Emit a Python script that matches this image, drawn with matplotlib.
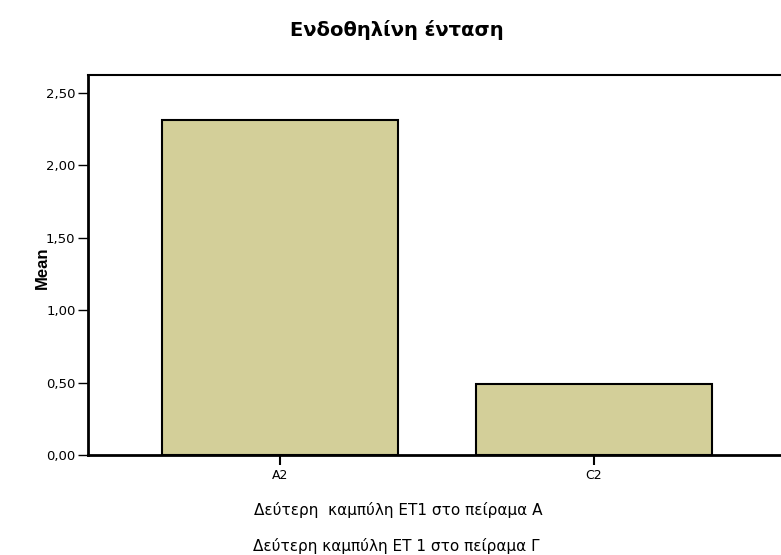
import matplotlib
matplotlib.use('Agg')
import matplotlib.pyplot as plt
from matplotlib.ticker import FuncFormatter

# Δεδομένα
categories = ['A2', 'C2']
means = [2.31, 0.49]
y_ticks = [0.0, 0.5, 1.0, 1.5, 2.0, 2.5]

title = 'Ενδοθηλίνη ένταση'
xlabel_lines = ['Δεύτερη  καμπύλη ΕΤ1 στο πείραμα Α',
                'Δεύτερη καμπύλη ΕΤ 1 στο πείραμα Γ']

plt.rcParams['font.family'] = ['DejaVu Sans']

W, H = 781, 555
fig = plt.figure(figsize=(W / 100, H / 100), dpi=100)
ax = fig.add_axes([88 / W, 1 - 455 / H, 1 - 88 / W + 0.01, (455 - 75) / H])

x = range(len(categories))
ax.bar(x, means, width=0.75, color='#d3cf99', edgecolor='black', linewidth=1.5)

ax.set_xlim(-0.61, 1.62)
ax.set_ylim(0, 2.624)
ax.set_xticks(list(x))
ax.set_xticklabels(categories, fontsize=9)
ax.set_yticks(y_ticks)
ax.yaxis.set_major_formatter(FuncFormatter(lambda v, p: f'{v:.2f}'.replace('.', ',')))
ax.tick_params(axis='y', labelsize=9.5, length=7.5, width=1, pad=1.5)
ax.tick_params(axis='x', length=7, width=1.5, pad=3)

for s in ['left', 'bottom']:
    ax.spines[s].set_linewidth(2)
ax.spines['top'].set_linewidth(1.5)
ax.spines['right'].set_visible(False)

# ετικέτα άξονα y ανάμεσα στις ετικέτες των ticks, όπως στο SPSS
ax.set_ylabel('Mean', fontsize=12, fontweight='bold', family='Liberation Sans')
ax.yaxis.set_label_coords(50 / W, 1 - 268 / H, transform=fig.transFigure)

fig.text(397 / W, 1 - 36 / H, title, ha='center', va='baseline', fontsize=14, fontweight='bold')
fig.text(398 / W, 1 - 515 / H, xlabel_lines[0], ha='center', va='baseline', fontsize=11)
fig.text(396 / W, 1 - 551 / H, xlabel_lines[1], ha='center', va='baseline', fontsize=11)

fig.savefig('out.png', dpi=100)
